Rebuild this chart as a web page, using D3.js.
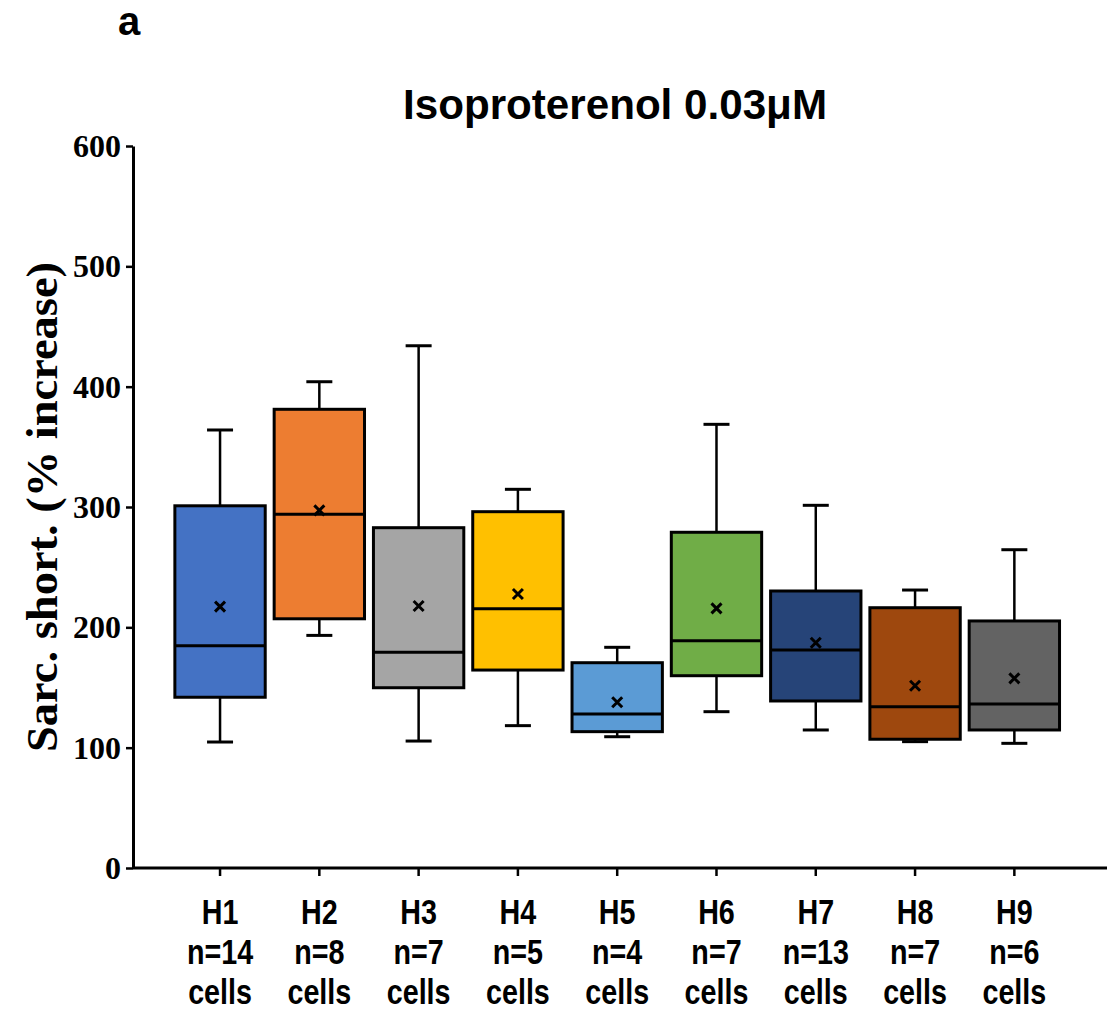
<!DOCTYPE html>
<html>
<head>
<meta charset="utf-8">
<script src="https://cdn.jsdelivr.net/npm/d3@7"></script>
<style>
  body { margin: 0; background: #fff; }
  svg { display: block; }
</style>
</head>
<body>
<svg id="canvas"></svg>
<script>
const groups = ["H1", "H2", "H3", "H4", "H5", "H6", "H7", "H8", "H9"];
const cellCounts = [14, 8, 7, 5, 4, 7, 13, 7, 6];
const whiskerLow = [104.7, 193.3, 105.5, 118.3, 109.1, 129.9, 114.7, 105.0, 103.6];
const q1 = [141.9, 207.1, 149.8, 164.5, 113.3, 159.8, 138.8, 107.0, 114.7];
const medians = [184.7, 293.9, 179.3, 215.5, 128.0, 188.9, 181.2, 134.0, 136.3];
const q3 = [301.0, 381.2, 282.8, 296.1, 170.6, 279.0, 230.2, 216.3, 205.3];
const whiskerHigh = [364.0, 404.1, 434.0, 314.7, 183.4, 368.7, 301.4, 231.0, 264.5];
const means = [217.2, 297.2, 217.7, 227.7, 137.7, 215.8, 187.2, 151.5, 157.6];
const colors = ["#4472C4", "#ED7D31", "#A5A5A5", "#FFC000", "#5B9BD5", "#70AD47", "#264478", "#9E480E", "#636363"];
const yTicks = [0, 100, 200, 300, 400, 500, 600];

const width = 1107,
    height = 1011;

const svg = d3.select("#canvas")
    .attr("width", width)
    .attr("height", height);

const box = { left: 133, top: 146, right: 1107, bottom: 868 };

const data = groups.map((g, i) => ({
    name: g,
    n: cellCounts[i],
    lo: whiskerLow[i],
    q1: q1[i],
    med: medians[i],
    q3: q3[i],
    hi: whiskerHigh[i],
    mean: means[i],
    color: colors[i]
}));

const scaleX = d3.scaleBand()
    .domain(groups)
    .range([170.4, 1064])
    .paddingInner(0.09)
    .paddingOuter(0.045);
const scaleY = d3.scaleLinear()
    .domain([0, 600])
    .range([box.bottom, box.top]);

// panel letter + title
svg.append("text")
    .attr("x", 129).attr("y", 35)
    .attr("text-anchor", "middle")
    .style("font-family", "Liberation Sans, Arial, sans-serif")
    .style("font-weight", "bold")
    .style("font-size", "40px")
    .text("a");

svg.append("text")
    .attr("x", 615).attr("y", 119)
    .attr("text-anchor", "middle")
    .attr("textLength", 424)
    .attr("lengthAdjust", "spacingAndGlyphs")
    .style("font-family", "Liberation Sans, Arial, sans-serif")
    .style("font-weight", "bold")
    .style("font-size", "43px")
    .text("Isoproterenol 0.03μM");

// y axis
const axisY = svg.append("g")
    .attr("transform", `translate(${box.left},0)`)
    .call(d3.axisLeft(scaleY).tickValues(yTicks).tickSize(7).tickPadding(5).tickSizeOuter(0));
axisY.select(".domain").attr("stroke", "#000").attr("stroke-width", 3);
axisY.selectAll(".tick line").attr("stroke", "#000").attr("stroke-width", 2.5);
axisY.selectAll(".tick text")
    .style("font-family", "Liberation Serif, Times New Roman, serif")
    .style("font-weight", "bold")
    .style("font-size", "32px")
    .attr("dy", "0.33em");

svg.append("text")
    .attr("transform", `translate(57,${(box.top + box.bottom) / 2}) rotate(-90)`)
    .attr("text-anchor", "middle")
    .attr("textLength", 490)
    .attr("lengthAdjust", "spacingAndGlyphs")
    .style("font-family", "Liberation Serif, Times New Roman, serif")
    .style("font-weight", "bold")
    .style("font-size", "45px")
    .text("Sarc. short. (% increase)");

// x axis
const axisX = svg.append("g")
    .attr("transform", `translate(0,${box.bottom})`)
    .call(d3.axisBottom(scaleX).tickSize(8).tickSizeOuter(0).tickFormat(""));
axisX.select(".domain")
    .attr("d", `M${box.left},0H${box.right}`)
    .attr("stroke", "#000").attr("stroke-width", 3);
axisX.selectAll(".tick line").attr("stroke", "#000").attr("stroke-width", 2.5);

const labelLines = d => [d.name, `n=${d.n}`, "cells"];
const xLabels = svg.append("g").selectAll("text")
    .data(data)
    .join("text")
    .attr("transform", d => `translate(${scaleX(d.name) + scaleX.bandwidth() / 2},924) scale(0.82,1)`)
    .attr("text-anchor", "middle")
    .style("font-family", "Liberation Sans Narrow, Arial Narrow, Liberation Sans, sans-serif")
    .style("font-weight", "bold")
    .style("font-size", "35px");
xLabels.selectAll("tspan")
    .data(d => labelLines(d))
    .join("tspan")
    .attr("x", 0)
    .attr("dy", (d, i) => i === 0 ? 0 : 40)
    .text(d => d);

// boxes
const bw = scaleX.bandwidth();
const capW = 26;
const g = svg.append("g").selectAll("g")
    .data(data)
    .join("g")
    .attr("transform", d => `translate(${scaleX(d.name) + bw / 2},0)`);

g.append("line")
    .attr("x1", 0).attr("x2", 0)
    .attr("y1", d => scaleY(d.hi)).attr("y2", d => scaleY(d.lo))
    .attr("stroke", "#000").attr("stroke-width", 2.5);
g.append("line")
    .attr("x1", -capW / 2).attr("x2", capW / 2)
    .attr("y1", d => scaleY(d.hi)).attr("y2", d => scaleY(d.hi))
    .attr("stroke", "#000").attr("stroke-width", 3);
g.append("line")
    .attr("x1", -capW / 2).attr("x2", capW / 2)
    .attr("y1", d => scaleY(d.lo)).attr("y2", d => scaleY(d.lo))
    .attr("stroke", "#000").attr("stroke-width", 3);
g.append("rect")
    .attr("x", -bw / 2)
    .attr("y", d => scaleY(d.q3))
    .attr("width", bw)
    .attr("height", d => scaleY(d.q1) - scaleY(d.q3))
    .attr("fill", d => d.color)
    .attr("stroke", "#000").attr("stroke-width", 3);
g.append("line")
    .attr("x1", -bw / 2).attr("x2", bw / 2)
    .attr("y1", d => scaleY(d.med)).attr("y2", d => scaleY(d.med))
    .attr("stroke", "#000").attr("stroke-width", 3);
// mean markers
const mk = 5;
g.append("path")
    .attr("d", d => {
        const y = scaleY(d.mean);
        return `M${-mk},${y - mk}L${mk},${y + mk}M${mk},${y - mk}L${-mk},${y + mk}`;
    })
    .attr("stroke", "#000").attr("stroke-width", 3);
</script>
</body>
</html>
